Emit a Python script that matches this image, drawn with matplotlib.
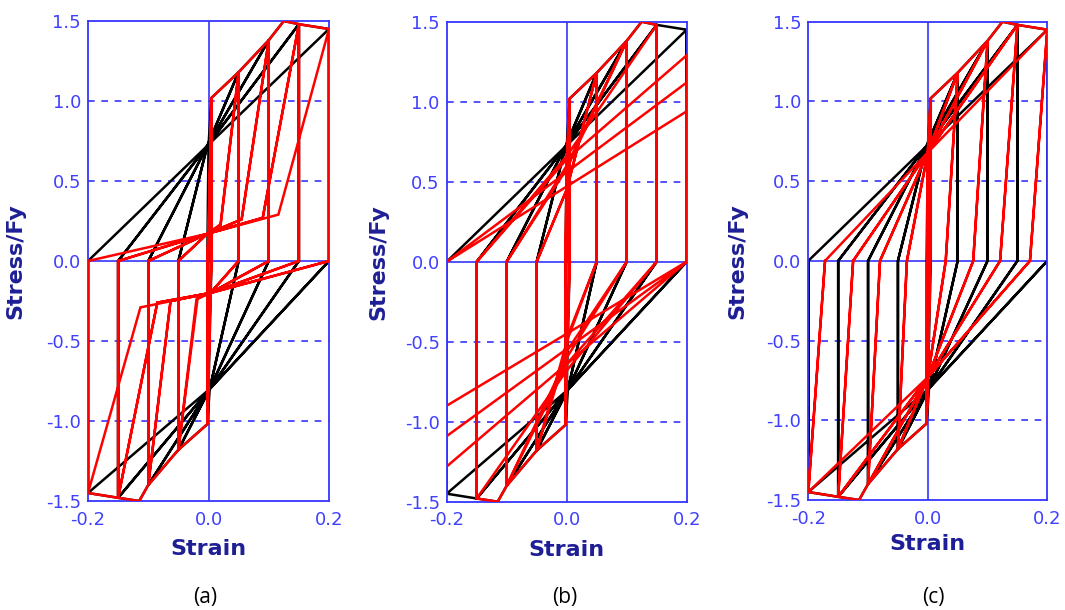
import matplotlib
matplotlib.use("Agg")
import matplotlib.pyplot as plt

# ---- hysteresis data: (strain, stress/Fy) vertices of each loading history ----

# reference response (same in all three panels)
black_path = [
    (0.0, 0.0), (0.005, 1.02), (0.005, 0.0), (0.0, -0.80), (-0.002, -1.02), (-0.002, 0.0), (0.0, 0.72),
    (0.005, 1.02), (0.05, 1.18), (0.05, 0.0), (0.002, -0.80), (-0.002, -1.02), (-0.05, -1.18),
    (-0.05, 0.0), (-0.002, 0.72),
    (0.05, 1.18), (0.05, 0.0), (0.002, -0.80), (-0.05, -1.18), (-0.05, 0.0), (-0.002, 0.72),
    (0.05, 1.18), (0.10, 1.38), (0.10, 0.0), (0.002, -0.80), (-0.05, -1.18), (-0.10, -1.40),
    (-0.10, 0.0), (-0.002, 0.72),
    (0.10, 1.38), (0.10, 0.0), (0.002, -0.80), (-0.10, -1.40), (-0.10, 0.0), (-0.002, 0.72),
    (0.10, 1.38), (0.125, 1.50), (0.15, 1.48), (0.15, 0.0), (0.002, -0.80), (-0.10, -1.40),
    (-0.115, -1.50), (-0.15, -1.48), (-0.15, 0.0), (-0.002, 0.72),
    (0.15, 1.48), (0.15, 0.0), (0.002, -0.80), (-0.15, -1.48), (-0.15, 0.0), (-0.002, 0.72),
    (0.15, 1.48), (0.20, 1.45), (0.20, 0.0), (0.002, -0.80), (-0.15, -1.48), (-0.20, -1.45),
    (-0.20, 0.0), (-0.002, 0.72),
    (0.20, 1.45), (0.20, 0.0), (0.002, -0.80), (-0.20, -1.45), (-0.20, 0.0),
]

# (a) model with slip plateau before reloading
red_path_a = [
    (0.0, 0.0), (0.005, 1.02), (0.005, 0.0), (0.003, -0.20), (-0.002, -1.02), (-0.002, 0.0), (0.0, 0.17),
    (0.005, 1.02), (0.005, 0.0), (0.003, -0.20), (-0.002, -1.02), (-0.002, 0.0), (0.0, 0.17),
    (0.005, 1.02), (0.05, 1.18), (0.05, 0.0), (0.003, -0.20), (-0.002, -1.02), (-0.05, -1.18),
    (-0.05, 0.0), (-0.002, 0.17),
    (0.02, 0.22), (0.05, 1.18), (0.05, 0.0), (0.003, -0.20), (-0.018, -0.23), (-0.05, -1.18),
    (-0.05, 0.0), (-0.002, 0.17),
    (0.02, 0.23), (0.05, 1.18), (0.10, 1.38), (0.10, 0.0), (0.003, -0.20), (-0.02, -0.24),
    (-0.05, -1.18), (-0.10, -1.40), (-0.10, 0.0), (-0.002, 0.17),
    (0.055, 0.26), (0.10, 1.38), (0.10, 0.0), (0.003, -0.20), (-0.063, -0.25), (-0.10, -1.40),
    (-0.10, 0.0), (-0.002, 0.17),
    (0.055, 0.26), (0.10, 1.38), (0.125, 1.50), (0.15, 1.48), (0.15, 0.0), (0.003, -0.20),
    (-0.063, -0.25), (-0.10, -1.40), (-0.115, -1.50), (-0.15, -1.48), (-0.15, 0.0), (-0.002, 0.17),
    (0.09, 0.27), (0.15, 1.48), (0.15, 0.0), (0.003, -0.20), (-0.085, -0.26), (-0.15, -1.48),
    (-0.15, 0.0), (-0.002, 0.17),
    (0.09, 0.27), (0.15, 1.48), (0.20, 1.45), (0.20, 0.0), (0.003, -0.20), (-0.085, -0.26),
    (-0.15, -1.48), (-0.20, -1.45), (-0.20, 0.0), (-0.002, 0.17),
    (0.116, 0.29), (0.20, 1.45), (0.20, 0.0), (0.003, -0.20), (-0.113, -0.29), (-0.20, -1.45),
    (-0.20, 0.0),
]

# (b) model with strength degradation at the largest amplitude
red_path_b = [
    (0.0, 0.0), (0.005, 1.02), (0.005, 0.0), (0.0, -0.60), (-0.002, -1.02), (-0.002, 0.0), (0.0, 0.60),
    (0.005, 1.02), (0.005, 0.0), (0.0, -0.60), (-0.002, -1.02), (-0.002, 0.0), (0.0, 0.60),
    (0.005, 1.02), (0.05, 1.18), (0.05, 0.0), (0.0, -0.48), (-0.002, -1.02), (-0.05, -1.18),
    (-0.05, 0.0), (0.0, 0.45),
    (0.05, 1.18), (0.05, 0.0), (0.0, -0.50), (-0.05, -1.18), (-0.05, 0.0), (0.0, 0.45),
    (0.05, 1.18), (0.10, 1.38), (0.10, 0.0), (0.0, -0.56), (-0.05, -1.18), (-0.10, -1.40),
    (-0.10, 0.0), (0.0, 0.58),
    (0.10, 1.38), (0.10, 0.0), (0.0, -0.60), (-0.10, -1.40), (-0.10, 0.0), (0.0, 0.60),
    (0.10, 1.38), (0.125, 1.50), (0.15, 1.48), (0.15, 0.0), (0.0, -0.64), (-0.10, -1.40),
    (-0.115, -1.50), (-0.15, -1.48), (-0.15, 0.0), (0.0, 0.66),
    (0.15, 1.48), (0.15, 0.0), (0.0, -0.68), (-0.15, -1.48), (-0.15, 0.0), (0.0, 0.64),
    (0.20, 1.29), (0.20, 0.0), (0.0, -0.64), (-0.20, -1.28), (-0.20, 0.0), (0.0, 0.56),
    (0.20, 1.12), (0.20, 0.0), (0.0, -0.545), (-0.20, -1.09), (-0.20, 0.0), (0.0, 0.47),
    (0.20, 0.94), (0.20, 0.0), (0.0, -0.45), (-0.20, -0.90), (-0.20, 0.0),
]

# (c) model with inclined unloading branches
red_path_c = [
    (0.0, 0.0), (0.005, 1.02), (0.004, 0.0), (0.0, -0.70), (-0.002, -1.02), (-0.001, 0.0), (0.0, 0.68),
    (0.005, 1.02), (0.004, 0.0), (0.0, -0.70), (-0.002, -1.02), (-0.001, 0.0), (0.0, 0.68),
    (0.005, 1.02), (0.05, 1.18), (0.03, 0.0), (0.0, -0.73), (-0.002, -1.02), (-0.05, -1.18),
    (-0.035, 0.0), (0.0, 0.68),
    (0.05, 1.18), (0.03, 0.0), (0.0, -0.73), (-0.05, -1.18), (-0.035, 0.0), (0.0, 0.68),
    (0.05, 1.18), (0.10, 1.38), (0.076, 0.0), (0.0, -0.73), (-0.05, -1.18), (-0.10, -1.40),
    (-0.08, 0.0), (0.0, 0.68),
    (0.10, 1.38), (0.076, 0.0), (0.0, -0.73), (-0.10, -1.40), (-0.08, 0.0), (0.0, 0.68),
    (0.10, 1.38), (0.125, 1.50), (0.15, 1.48), (0.121, 0.0), (0.0, -0.73), (-0.10, -1.40),
    (-0.115, -1.50), (-0.15, -1.48), (-0.125, 0.0), (0.0, 0.68),
    (0.15, 1.48), (0.121, 0.0), (0.0, -0.73), (-0.15, -1.48), (-0.125, 0.0), (0.0, 0.68),
    (0.15, 1.48), (0.20, 1.45), (0.171, 0.0), (0.0, -0.73), (-0.15, -1.48), (-0.20, -1.45),
    (-0.172, 0.0), (0.0, 0.68),
    (0.20, 1.45), (0.171, 0.0), (0.0, -0.73), (-0.20, -1.45), (-0.172, 0.0),
]

panel_paths = [red_path_a, red_path_b, red_path_c]
panel_tags = ["(a)", "(b)", "(c)"]

x_ticks = [-0.2, 0.0, 0.2]
y_ticks = [-1.5, -1.0, -0.5, 0.0, 0.5, 1.0, 1.5]
dashed_levels = [-1.0, -0.5, 0.5, 1.0]

# ---- layout (figure fractions) ----
axes_boxes = [
    [88 / 1065, 1 - 501 / 610, 241 / 1065, 480 / 610],
    [446.7 / 1065, 1 - 501.7 / 610, 240 / 1065, 480 / 610],
    [808.3 / 1065, 1 - 500 / 610, 239 / 1065, 478.3 / 610],
]
ylabel_x = [-0.26, -0.245, -0.257]
xlabel_y = [-0.08, -0.08, -0.072]
tag_x = [205, 565, 933]

FRAME = "#3535ff"
TICK_TXT = "#4040ff"
LABEL_TXT = "#1e1e96"

fig = plt.figure(figsize=(10.65, 6.10), dpi=100)

for box, path, tag, ylx, xly, tx in zip(axes_boxes, panel_paths, panel_tags,
                                         ylabel_x, xlabel_y, tag_x):
    ax = fig.add_axes(box)
    ax.set_xlim(-0.2, 0.2)
    ax.set_ylim(-1.5, 1.5)

    for lvl in dashed_levels:
        ax.axhline(lvl, color=FRAME, lw=1.2, ls=(0, (4, 4)), zorder=1)
    ax.axhline(0.0, color=FRAME, lw=1.2, zorder=1)
    ax.axvline(0.0, color=FRAME, lw=1.2, zorder=1)

    bx, by = zip(*black_path)
    ax.plot(bx, by, color="black", lw=1.8, zorder=2, solid_joinstyle="miter")
    rx, ry = zip(*path)
    ax.plot(rx, ry, color="red", lw=1.8, zorder=3, solid_joinstyle="miter")

    ax.set_xticks(x_ticks)
    ax.set_xticklabels([f"{v:.1f}" for v in x_ticks])
    ax.set_yticks(y_ticks)
    ax.set_yticklabels([f"{v:.1f}" for v in y_ticks])
    ax.tick_params(length=0, labelcolor=TICK_TXT, labelsize=13)
    ax.tick_params(axis="y", pad=5)
    ax.tick_params(axis="x", pad=7)
    for sp in ax.spines.values():
        sp.set_color(FRAME)
        sp.set_linewidth(1.3)

    ax.set_xlabel("Strain", fontsize=16, fontweight="bold", color=LABEL_TXT)
    ax.xaxis.set_label_coords(0.5, xly)
    ax.set_ylabel("Stress/Fy", fontsize=16, fontweight="bold", color=LABEL_TXT)
    ax.yaxis.set_label_coords(ylx, 0.5)

    fig.text(tx / 1065, 1 - 598 / 610, tag, ha="center", va="center",
             fontsize=15, family="Open Sans", color="black")

fig.savefig("out.png", dpi=100)
